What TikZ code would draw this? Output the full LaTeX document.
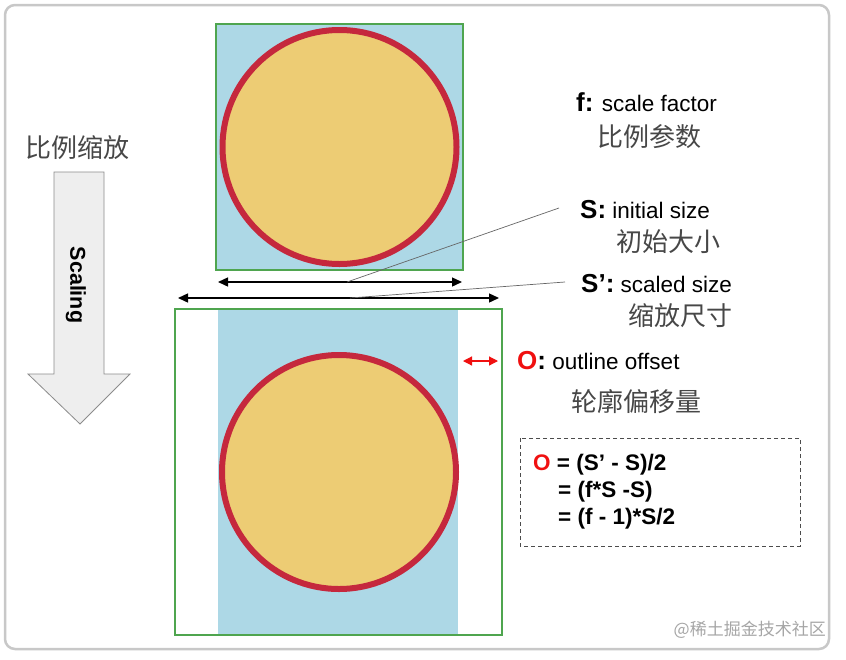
\documentclass[tikz,border=0pt]{standalone}
\usepackage{fontspec}
\setmainfont{Liberation Sans}
\newfontfamily\cjk{Noto Sans CJK SC}
\usetikzlibrary{arrows.meta,positioning}
\definecolor{boxblue}{HTML}{ADD8E6}
\definecolor{discyellow}{HTML}{EDCC74}
\definecolor{discred}{HTML}{C5283D}
\definecolor{rimgreen}{HTML}{4FA54F}
\definecolor{framegray}{HTML}{C8C8C8}
\definecolor{arrowfill}{HTML}{EEEEEE}
\definecolor{offsetred}{HTML}{F01010}
\tikzset{
  sizeline/.style={line width=1.4pt,{Triangle[length=10pt,width=9pt]}-{Triangle[length=10pt,width=9pt]}},
  leader/.style={draw=black!60,line width=0.7pt},
  rim/.style={draw=rimgreen,line width=1.5pt},
  disc/.style={fill=discyellow,draw=discred,line width=6pt},
  txtlabel/.style={inner sep=0pt,anchor=west,font=\fontsize{22.5}{24}\selectfont},
  cnlabel/.style={inner sep=0pt,anchor=west,text=black!72,font=\fontsize{26}{28}\selectfont\cjk},
  formula/.style={inner sep=0pt,anchor=west,font=\fontsize{22.5}{24}\selectfont\bfseries},
}
\newcommand{\keyterm}[1]{{\fontsize{26}{28}\selectfont\bfseries #1}}
\begin{document}
\begin{tikzpicture}[x=1pt,y=-1pt]
  \useasboundingbox[fill=white] (0,0) rectangle (846,659);
  \draw[framegray,line width=2.5pt,rounded corners=10pt] (5,5) rectangle (829,649);

  % initial object
  \fill[boxblue] (216,24) rectangle (463,270);
  \draw[rim] (216,24) rectangle (463,270);
  \draw[disc] (339.5,147) circle (117);

  % scaled object
  \fill[boxblue] (218,309) rectangle (458,635);
  \draw[rim] (175,309) rectangle (502,635);
  \draw[disc] (339,472) circle (117);

  % sizes
  \coordinate (sleft) at (218,282);
  \coordinate (sright) at (462,282);
  \coordinate (smid) at (347,282);
  \coordinate (spleft) at (178,298);
  \coordinate (spright) at (499,298);
  \coordinate (spmid) at (350,298);
  \draw[sizeline] (sleft) -- (sright);
  \draw[sizeline] (spleft) -- (spright);
  \coordinate (oleft) at (463,361);
  \coordinate (oright) at (498,361);
  \draw[offsetred,line width=1.2pt,{Triangle[length=9pt,width=9pt]}-{Triangle[length=9pt,width=9pt]}] (oleft) -- (oright);

  % labels
  \node[txtlabel] (factor) at (576,102) {\keyterm{f:} scale factor};
  \node[cnlabel] (factorcn) at (597,137) {比例参数};
  \node[txtlabel] (ssize) at (580,210) {\keyterm{S:} initial size};
  \node[cnlabel] (ssizecn) at (616,242) {初始大小};
  \node[txtlabel] (spsize) at (581,284) {\keyterm{S’:} scaled size};
  \node[cnlabel] (spsizecn) at (628,316) {缩放尺寸};
  \node[txtlabel] (offset) at (517,361) {\keyterm{\textcolor{offsetred}{O}:} outline offset};
  \node[cnlabel] (offsetcn) at (571,402) {轮廓偏移量};
  \coordinate (sends) at (559,208);
  \coordinate (spend) at (565,282);
  \draw[leader] (smid) -- (sends);
  \draw[leader] (spmid) -- (spend);

  % formula
  \draw[black!70,line width=1pt,dash pattern=on 4pt off 3pt] (520,438) rectangle (800,546);
  \node[formula] (line1) at (533,465) {\textcolor{offsetred}{O} = (S’ - S)/2};
  \node[formula] (line2) at (558,492) {= (f*S -S)};
  \node[formula] (line3) at (558,519) {= (f - 1)*S/2};

  % scaling arrow
  \node[cnlabel] (scalecn) at (25,148) {比例缩放};
  \draw[fill=arrowfill,draw=black!45,line width=0.8pt]
    (54,172) -- (104,172) -- (104,374) -- (130,374) -- (80,424) -- (28,374) -- (54,374) -- cycle;
  \node[rotate=-90,inner sep=0pt,font=\fontsize{21.5}{23}\selectfont\bfseries] (scaling) at (76,285) {Scaling};

  \node[inner sep=0pt,anchor=east,text=black!35,font=\fontsize{17}{19}\selectfont\cjk] (mark) at (826,630) {@稀土掘金技术社区};
\end{tikzpicture}
\end{document}
